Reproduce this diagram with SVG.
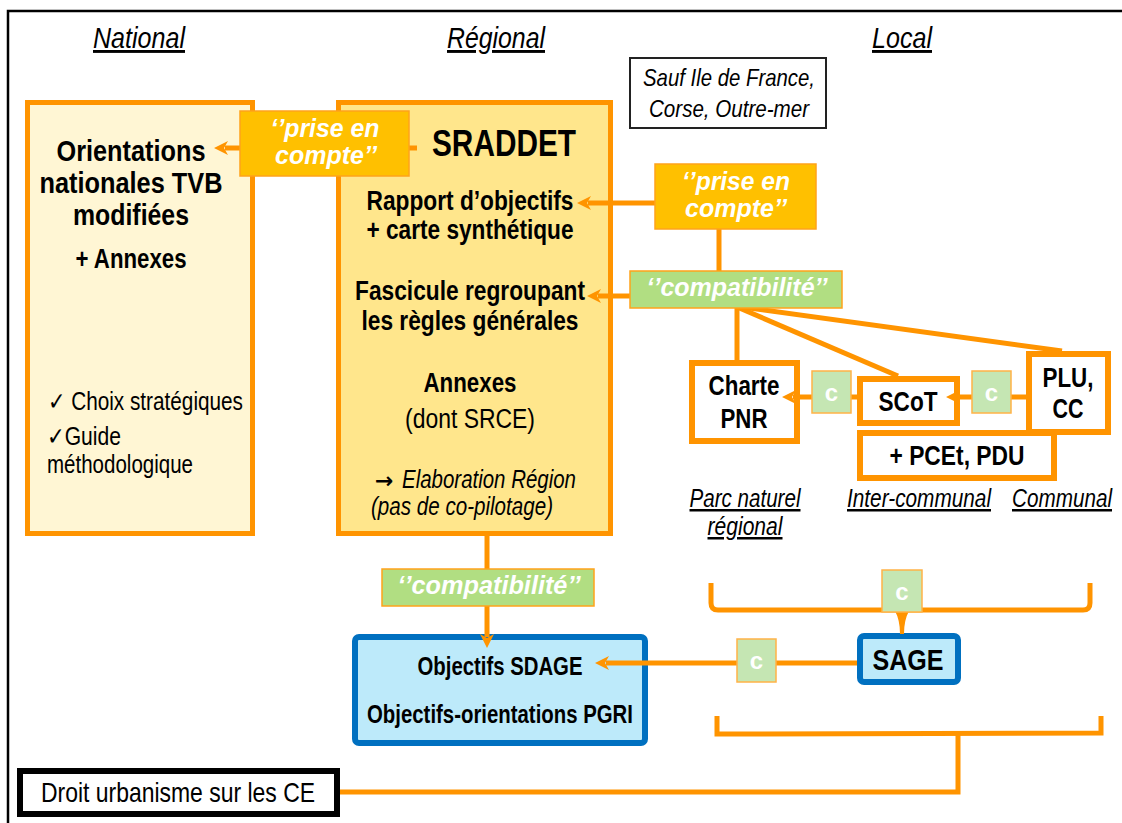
<svg xmlns="http://www.w3.org/2000/svg" width="1122" height="823" viewBox="0 0 1122 823">
<defs>
<style>
.n{font-family:"Liberation Sans",Arial,sans-serif;fill:#000}
.b{font-weight:bold}
.i{font-style:italic}
.u{text-decoration:underline}
.m{text-anchor:middle}
.lab{font-family:"Liberation Sans",Arial,sans-serif;font-weight:bold;font-style:italic;fill:#fff;text-anchor:middle;font-size:25px}
.cl{font-family:"Liberation Sans",Arial,sans-serif;font-weight:bold;fill:#fff;text-anchor:middle;font-size:24px}
.ob{fill:none;stroke:#FF9400;stroke-width:6}
.con{fill:none;stroke:#FF9400;stroke-width:5}
.prise{fill:#FFC000;stroke:#FFA31A;stroke-width:1.5}
.compat{fill:#B1DE82;stroke:#FFA31A;stroke-width:1.5}
.cbox{fill:#C5E6B3;stroke:#FFB347;stroke-width:1.5}
.blue{fill:#BDEAFA;stroke:#0070C0;stroke-width:6}
</style>
<marker id="ah" markerUnits="userSpaceOnUse" markerWidth="16" markerHeight="16" viewBox="0 -8 16 16" refX="3" refY="0" orient="auto">
<path d="M0,-7 L14,0 L0,7 L4,0 Z" fill="#FF9400"/>
</marker>
</defs>
<rect width="1122" height="823" fill="#fff"/>
<path d="M8,823 L8,11 L1122,11" fill="none" stroke="#000" stroke-width="2.5"/>

<g id="headers">
<text class="n i u m" x="139" y="48" font-size="29" textLength="92" lengthAdjust="spacingAndGlyphs">National</text>
<text class="n i u m" x="496" y="48" font-size="29" textLength="98" lengthAdjust="spacingAndGlyphs">Régional</text>
<text class="n i u m" x="902" y="48" font-size="29" textLength="60" lengthAdjust="spacingAndGlyphs">Local</text>
</g>

<g id="national">
<rect x="27.5" y="102.5" width="225" height="431" fill="#FFF6D4" stroke="#FF9400" stroke-width="5"/>
<text class="n b m" x="131" y="161" font-size="30" textLength="149" lengthAdjust="spacingAndGlyphs">Orientations</text>
<text class="n b m" x="131" y="193" font-size="30" textLength="183" lengthAdjust="spacingAndGlyphs">nationales TVB</text>
<text class="n b m" x="131" y="225" font-size="30" textLength="116" lengthAdjust="spacingAndGlyphs">modifiées</text>
<text class="n b m" x="131" y="268" font-size="27" textLength="111" lengthAdjust="spacingAndGlyphs">+ Annexes</text>
<text class="n" x="48" y="410" font-size="25" textLength="195" lengthAdjust="spacingAndGlyphs">✓ Choix stratégiques</text>
<text class="n" x="47" y="445" font-size="25" textLength="74" lengthAdjust="spacingAndGlyphs">✓Guide</text>
<text class="n" x="47" y="473" font-size="25" textLength="146" lengthAdjust="spacingAndGlyphs">méthodologique</text>
</g>

<g id="sraddet">
<rect x="338.5" y="102.5" width="272" height="431" fill="#FFE68C" stroke="#FF9400" stroke-width="5"/>
<text class="n b m" x="504" y="156" font-size="36" textLength="144" lengthAdjust="spacingAndGlyphs">SRADDET</text>
<text class="n b m" x="470" y="210" font-size="27" textLength="207" lengthAdjust="spacingAndGlyphs">Rapport d’objectifs</text>
<text class="n b m" x="470" y="239" font-size="27" textLength="207" lengthAdjust="spacingAndGlyphs">+ carte synthétique</text>
<text class="n b m" x="470" y="300" font-size="27" textLength="230" lengthAdjust="spacingAndGlyphs">Fascicule regroupant</text>
<text class="n b m" x="470" y="330" font-size="27" textLength="217" lengthAdjust="spacingAndGlyphs">les règles générales</text>
<text class="n b m" x="470" y="392" font-size="27" textLength="93" lengthAdjust="spacingAndGlyphs">Annexes</text>
<text class="n m" x="470" y="428" font-size="27" textLength="130" lengthAdjust="spacingAndGlyphs">(dont SRCE)</text>
<text x="375" y="488" font-family="DejaVu Sans,sans-serif" font-size="22" font-weight="bold" fill="#000">→</text>
<text class="n i m" x="489" y="488" font-size="25" textLength="174" lengthAdjust="spacingAndGlyphs">Elaboration Région</text>
<text class="n i m" x="462" y="515" font-size="25" textLength="182" lengthAdjust="spacingAndGlyphs">(pas de co-pilotage)</text>
</g>

<g id="sauf">
<rect x="630" y="58" width="196" height="70" fill="#fff" stroke="#222" stroke-width="2"/>
<text class="n i m" x="729" y="86" font-size="24" textLength="172" lengthAdjust="spacingAndGlyphs">Sauf Ile de France,</text>
<text class="n i m" x="729" y="117" font-size="24" textLength="160" lengthAdjust="spacingAndGlyphs">Corse, Outre-mer</text>
</g>

<g id="sdage">
<rect class="blue" x="355" y="637" width="290" height="106" rx="4"/>
<text class="n b m" x="500" y="675" font-size="25" textLength="165" lengthAdjust="spacingAndGlyphs">Objectifs SDAGE</text>
<text class="n b m" x="500" y="723" font-size="25" textLength="266" lengthAdjust="spacingAndGlyphs">Objectifs-orientations PGRI</text>
</g>

<g id="charte">
<rect class="ob" x="692" y="363" width="105" height="78" fill="#fff"/>
<text class="n b m" x="744" y="395" font-size="27" textLength="71" lengthAdjust="spacingAndGlyphs">Charte</text>
<text class="n b m" x="744" y="428" font-size="27" textLength="47" lengthAdjust="spacingAndGlyphs">PNR</text>
</g>

<g id="scot">
<rect class="ob" x="860" y="379" width="97" height="44" fill="#fff"/>
<text class="n b m" x="908" y="411" font-size="27" textLength="59" lengthAdjust="spacingAndGlyphs">SCoT</text>
</g>

<g id="pcet">
<rect class="ob" x="860" y="433" width="194" height="45" fill="#fff"/>
<text class="n b m" x="957" y="465" font-size="27" textLength="135" lengthAdjust="spacingAndGlyphs">+ PCEt, PDU</text>
</g>

<g id="plu">
<rect class="ob" x="1029" y="354" width="79" height="78" fill="#fff"/>
<text class="n b m" x="1068" y="387" font-size="27" textLength="51" lengthAdjust="spacingAndGlyphs">PLU,</text>
<text class="n b m" x="1068" y="418" font-size="27" textLength="31" lengthAdjust="spacingAndGlyphs">CC</text>
</g>

<g id="sage">
<rect class="blue" x="860" y="636" width="98" height="46" rx="4"/>
<text class="n b m" x="908" y="670" font-size="30" textLength="71" lengthAdjust="spacingAndGlyphs">SAGE</text>
</g>

<g id="droit">
<rect x="20" y="771" width="317" height="43" fill="#fff" stroke="#000" stroke-width="6"/>
<text class="n m" x="178" y="802" font-size="28" textLength="274" lengthAdjust="spacingAndGlyphs">Droit urbanisme sur les CE</text>
</g>

<g id="local-labels">
<text class="n i u m" x="745" y="507" font-size="25" textLength="111" lengthAdjust="spacingAndGlyphs">Parc naturel</text>
<text class="n i u m" x="745" y="535" font-size="25" textLength="75" lengthAdjust="spacingAndGlyphs">régional</text>
<text class="n i u m" x="919" y="507" font-size="25" textLength="144" lengthAdjust="spacingAndGlyphs">Inter-communal</text>
<text class="n i u m" x="1062" y="507" font-size="25" textLength="100" lengthAdjust="spacingAndGlyphs">Communal</text>
</g>

<g id="connectors">
<line class="con" x1="417" y1="148" x2="225" y2="148" marker-end="url(#ah)"/>
<line class="con" x1="655" y1="203" x2="588" y2="203" marker-end="url(#ah)"/>
<line class="con" x1="719" y1="229" x2="719" y2="271"/>
<line class="con" x1="630" y1="296" x2="598" y2="296" marker-end="url(#ah)"/>
<line class="con" x1="737" y1="306" x2="737" y2="360"/>
<line class="con" x1="737" y1="307" x2="898" y2="376"/>
<line class="con" x1="742" y1="307" x2="1062" y2="351"/>
<line class="con" x1="857" y1="397" x2="793" y2="397" marker-end="url(#ah)"/>
<line class="con" x1="1026" y1="397" x2="957" y2="397" marker-end="url(#ah)"/>
<path class="con" d="M711,583 L711,603 Q711,610 718,610 L1083,610 Q1090,610 1090,603 L1090,583"/>
<path d="M895,611 L909,611 Q904,620 904,634 L900,634 Q900,620 895,611 Z" fill="#FF9400"/>
<line class="con" x1="857" y1="663" x2="606" y2="663" marker-end="url(#ah)"/>
<line class="con" x1="487" y1="535" x2="487" y2="570"/>
<line class="con" x1="487" y1="606" x2="487" y2="637" marker-end="url(#ah)"/>
<path class="con" d="M717,716 L717,734 L1101,733 L1101,716"/>
<path class="con" d="M958,734 L958,792 L340,792"/>
</g>

<g id="prise-left">
<rect class="prise" x="240" y="111" width="169" height="65"/>
<text class="lab" x="325" y="137" textLength="109" lengthAdjust="spacingAndGlyphs">‘’prise en</text>
<text class="lab" x="326" y="164" textLength="102" lengthAdjust="spacingAndGlyphs">compte’’</text>
</g>

<g id="prise-right">
<rect class="prise" x="655" y="164" width="161" height="65"/>
<text class="lab" x="736" y="190" textLength="108" lengthAdjust="spacingAndGlyphs">‘’prise en</text>
<text class="lab" x="736" y="217" textLength="102" lengthAdjust="spacingAndGlyphs">compte’’</text>
</g>

<g id="compat-top">
<rect class="compat" x="630" y="271" width="212" height="37"/>
<text class="lab" x="737" y="296" textLength="181" lengthAdjust="spacingAndGlyphs">‘’compatibilité’’</text>
</g>

<g id="c1">
<rect class="cbox" x="812" y="371" width="39" height="42"/>
<text class="cl" x="831.5" y="401">c</text>
</g>

<g id="c2">
<rect class="cbox" x="972" y="371" width="39" height="42"/>
<text class="cl" x="991.5" y="401">c</text>
</g>

<g id="c3">
<rect class="cbox" x="882" y="570" width="40" height="42"/>
<text class="cl" x="902" y="600">c</text>
</g>

<g id="compat-bottom">
<rect class="compat" x="382" y="569" width="212" height="37"/>
<text class="lab" x="489" y="594" textLength="183" lengthAdjust="spacingAndGlyphs">‘’compatibilité’’</text>
</g>

<g id="c4">
<rect class="cbox" x="737" y="639" width="39" height="43"/>
<text class="cl" x="756.5" y="669">c</text>
</g>
</svg>
